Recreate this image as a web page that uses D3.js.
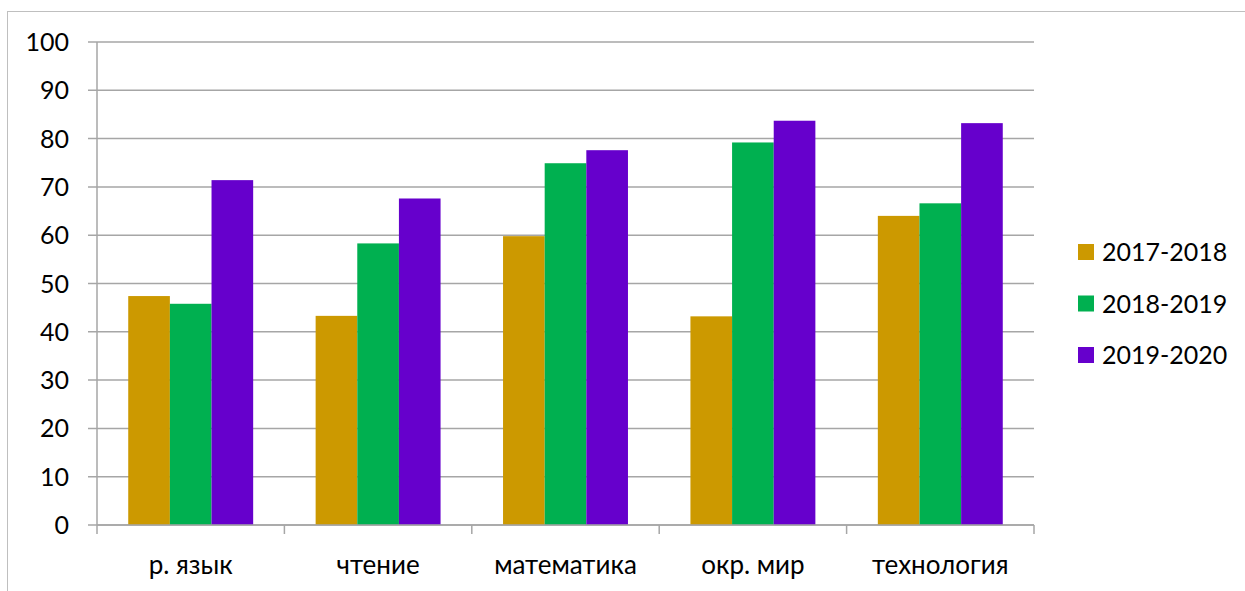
<!DOCTYPE html>
<html>
<head>
<meta charset="utf-8">
<script src="https://cdn.jsdelivr.net/npm/d3@7"></script>
<style>
  body { margin: 0; background: #fff; }
  svg text { font-family: Lato, "Open Sans", sans-serif; fill: #000; }
</style>
</head>
<body>
<div id="chart"></div>
<script>
var categories = ["р. язык", "чтение", "математика", "окр. мир", "технология"];
var seriesNames = ["2017-2018", "2018-2019", "2019-2020"];
var values2017 = [47.4, 43.3, 59.8, 43.2, 64.0];
var values2018 = [45.8, 58.3, 74.9, 79.2, 66.6];
var values2019 = [71.4, 67.6, 77.6, 83.7, 83.2];
var yTicks = [0, 10, 20, 30, 40, 50, 60, 70, 80, 90, 100];
var colors = ["#CC9900", "#00B050", "#6600CC"];

var svgWidth = 1245;
var svgHeight = 591;

var margin = { top: 42, left: 97, right: 211, bottom: 66 };
var width = svgWidth - margin.left - margin.right;
var height = svgHeight - margin.top - margin.bottom;

var svg = d3.select("#chart")
    .append("svg")
    .attr("width", svgWidth)
    .attr("height", svgHeight);

// outer chart frame
svg.append("rect")
    .attr("x", 7.5)
    .attr("y", 11.5)
    .attr("width", svgWidth + 20)
    .attr("height", svgHeight + 20)
    .attr("fill", "none")
    .attr("stroke", "#bfbfbf")
    .attr("stroke-width", 1);

var chartGroup = svg.append("g")
    .attr("transform", `translate(${margin.left}, ${margin.top})`);

var data = categories.map(function(c, i) {
    return { cat: c, vals: [values2017[i], values2018[i], values2019[i]] };
});

var x0 = d3.scaleBand()
    .domain(categories)
    .range([0, width]);

var x1 = d3.scaleBand()
    .domain(seriesNames)
    .range([0, x0.bandwidth()])
    .paddingInner(0)
    .paddingOuter(0.75);

var y = d3.scaleLinear()
    .domain([0, 100])
    .range([height, 0]);

// gridlines
chartGroup.selectAll(".grid")
    .data(yTicks)
    .enter()
    .append("line")
    .attr("x1", -9)
    .attr("x2", width)
    .attr("y1", d => y(d))
    .attr("y2", d => y(d))
    .attr("stroke", "#a6a6a6")
    .attr("stroke-width", 1.5);

// left axis line
chartGroup.append("line")
    .attr("x1", 0).attr("x2", 0)
    .attr("y1", 0).attr("y2", height)
    .attr("stroke", "#a6a6a6")
    .attr("stroke-width", 1.5);

// y labels
chartGroup.selectAll(".ylab")
    .data(yTicks)
    .enter()
    .append("text")
    .attr("x", -28)
    .attr("y", d => y(d))
    .attr("dy", "0.36em")
    .attr("text-anchor", "end")
    .style("font-size", "25px")
    .text(d => d);

// bars
var groups = chartGroup.selectAll(".cat")
    .data(data)
    .enter()
    .append("g")
    .attr("transform", d => `translate(${x0(d.cat)}, 0)`);

groups.selectAll("rect")
    .data(d => d.vals.map((v, i) => ({ name: seriesNames[i], v: v, i: i })))
    .enter()
    .append("rect")
    .attr("x", d => x1(d.name))
    .attr("width", x1.bandwidth())
    .attr("y", d => y(d.v))
    .attr("height", d => height - y(d.v))
    .attr("fill", d => colors[d.i]);

// bottom axis line with category ticks
chartGroup.append("line")
    .attr("x1", 0).attr("x2", width)
    .attr("y1", height).attr("y2", height)
    .attr("stroke", "#a6a6a6")
    .attr("stroke-width", 1.5);

var bounds = categories.map(c => x0(c)).concat([width]);
chartGroup.selectAll(".xtick")
    .data(bounds)
    .enter()
    .append("line")
    .attr("x1", d => d).attr("x2", d => d)
    .attr("y1", height).attr("y2", height + 9)
    .attr("stroke", "#a6a6a6")
    .attr("stroke-width", 1.5);

chartGroup.selectAll(".xlab")
    .data(categories)
    .enter()
    .append("text")
    .attr("x", d => x0(d) + x0.bandwidth() / 2)
    .attr("y", height + 40)
    .attr("dy", "0.36em")
    .attr("text-anchor", "middle")
    .style("font-size", "26px")
    .text(d => d);

// legend
var legend = svg.selectAll(".legend")
    .data(seriesNames)
    .enter()
    .append("g")
    .attr("transform", (d, i) => `translate(1078, ${252 + i * 51.5})`);

legend.append("rect")
    .attr("x", 0)
    .attr("y", -8)
    .attr("width", 16)
    .attr("height", 16)
    .attr("fill", (d, i) => colors[i]);

legend.append("text")
    .attr("x", 24)
    .attr("y", 0)
    .attr("dy", "0.36em")
    .style("font-size", "25px")
    .text(d => d);
</script>
</body>
</html>
